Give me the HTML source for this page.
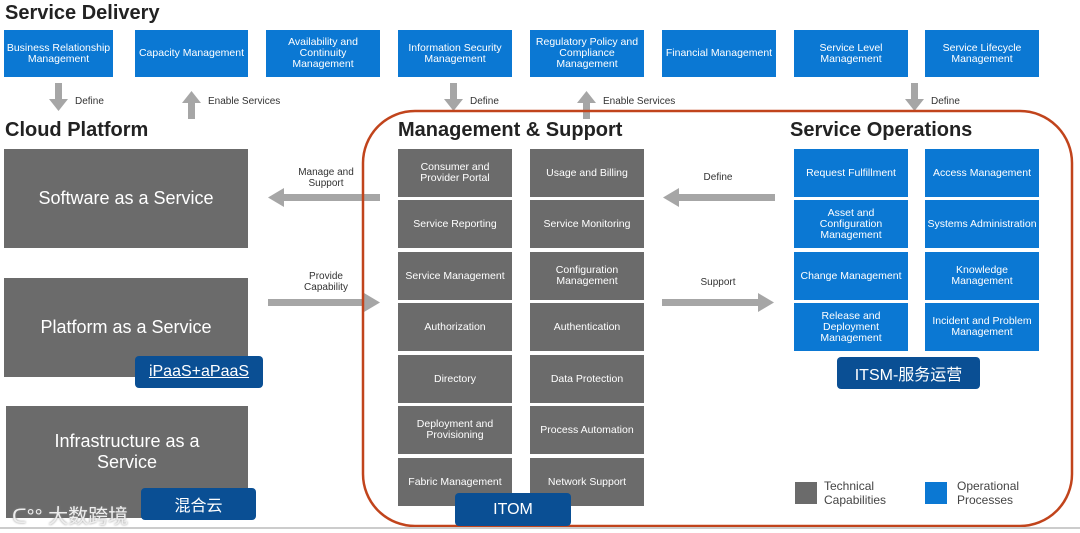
<!DOCTYPE html>
<html><head><meta charset="utf-8"><style>
body{margin:0;width:1080px;height:533px;background:#fff;position:relative;overflow:hidden;font-family:"Liberation Sans","Noto Sans CJK SC",sans-serif}
.a{position:absolute;display:flex;align-items:center;justify-content:center;text-align:center;box-sizing:border-box}
.b{background:#0b78d3;color:#fff;font-size:10.5px;line-height:11px;padding:0 2px}
.g{background:#6b6b6b;color:#fff;font-size:10.5px;line-height:11px;padding:0 2px}
.G{background:#6b6b6b;color:#fff;font-size:18px;line-height:21px}
.bd{background:#0a4f94;color:#fff;font-size:16px;border-radius:4px}
.h{position:absolute;font-size:20px;font-weight:bold;color:#222}
.l{position:absolute;font-size:10px;color:#333;text-align:center;line-height:11px}
</style></head><body>
<div class="h" style="left:5px;top:2px">Service Delivery</div>
<div class="a b" style="left:4px;top:30px;width:109px;height:47px">Business Relationship Management</div>
<div class="a b" style="left:135px;top:30px;width:113px;height:47px">Capacity Management</div>
<div class="a b" style="left:266px;top:30px;width:114px;height:47px">Availability and Continuity Management</div>
<div class="a b" style="left:398px;top:30px;width:114px;height:47px">Information Security Management</div>
<div class="a b" style="left:530px;top:30px;width:114px;height:47px">Regulatory Policy and Compliance Management</div>
<div class="a b" style="left:662px;top:30px;width:114px;height:47px">Financial Management</div>
<div class="a b" style="left:794px;top:30px;width:114px;height:47px">Service Level Management</div>
<div class="a b" style="left:925px;top:30px;width:114px;height:47px">Service Lifecycle Management</div>

<svg style="position:absolute;left:0;top:0" width="1080" height="533">
<g fill="#a6a6a6">
<path d="M55 83h7v16h6l-9.5 12-9.5-12h6z"/>
<path d="M188 119h7v-16h6l-9.5-12-9.5 12h6z"/>
<path d="M450 83h7v16h6l-9.5 12-9.5-12h6z"/>
<path d="M583 119h7v-16h6l-9.5-12-9.5 12h6z"/>
<path d="M911 83h7v16h6l-9.5 12-9.5-12h6z"/>
<path d="M380 194v7h-96v6l-16-9.5 16-9.5v6z"/>
<path d="M268 299v7h96v6l16-9.5-16-9.5v6z"/>
<path d="M775 194v7h-96v6l-16-9.5 16-9.5v6z"/>
<path d="M662 299v7h96v6l16-9.5-16-9.5v6z"/>
</g>
<rect x="363" y="111" width="709" height="415" rx="52" fill="none" stroke="#c1441c" stroke-width="2.5"/>
<line x1="0" y1="528" x2="1080" y2="528" stroke="#ccc" stroke-width="2"/>
</svg>
<div class="l" style="left:75px;top:96px">Define</div>
<div class="l" style="left:208px;top:96px">Enable Services</div>
<div class="l" style="left:470px;top:96px">Define</div>
<div class="l" style="left:603px;top:96px">Enable Services</div>
<div class="l" style="left:931px;top:96px">Define</div>
<div class="l" style="left:290px;top:167px;width:72px">Manage and Support</div>
<div class="l" style="left:290px;top:271px;width:72px">Provide Capability</div>
<div class="l" style="left:690px;top:172px;width:56px">Define</div>
<div class="l" style="left:690px;top:277px;width:56px">Support</div>

<div class="h" style="left:5px;top:119px">Cloud Platform</div>
<div class="h" style="left:398px;top:119px">Management &amp; Support</div>
<div class="h" style="left:790px;top:119px">Service Operations</div>

<div class="a G" style="left:4px;top:149px;width:244px;height:99px">Software as a Service</div>
<div class="a G" style="left:4px;top:278px;width:244px;height:99px">Platform as a Service</div>
<div class="a G" style="left:6px;top:406px;width:242px;height:112px;padding-bottom:20px">Infrastructure as a<br>Service</div>
<div class="a bd" style="left:135px;top:356px;width:128px;height:32px;text-decoration:underline">iPaaS+aPaaS</div>
<div class="a bd" style="left:141px;top:488px;width:115px;height:32px">混合云</div>
<div style="position:absolute;left:12px;top:500px;font-size:20px;color:#eee;text-shadow:0 0 2px #888">ᑕ°° 大数跨境</div>

<div class="a g" style="left:398px;top:149px;width:114px;height:48px">Consumer and Provider Portal</div>
<div class="a g" style="left:398px;top:200px;width:114px;height:48px">Service Reporting</div>
<div class="a g" style="left:398px;top:252px;width:114px;height:48px">Service Management</div>
<div class="a g" style="left:398px;top:303px;width:114px;height:48px">Authorization</div>
<div class="a g" style="left:398px;top:355px;width:114px;height:48px">Directory</div>
<div class="a g" style="left:398px;top:406px;width:114px;height:48px">Deployment and Provisioning</div>
<div class="a g" style="left:398px;top:458px;width:114px;height:48px">Fabric Management</div>
<div class="a g" style="left:530px;top:149px;width:114px;height:48px">Usage and Billing</div>
<div class="a g" style="left:530px;top:200px;width:114px;height:48px">Service Monitoring</div>
<div class="a g" style="left:530px;top:252px;width:114px;height:48px">Configuration Management</div>
<div class="a g" style="left:530px;top:303px;width:114px;height:48px">Authentication</div>
<div class="a g" style="left:530px;top:355px;width:114px;height:48px">Data Protection</div>
<div class="a g" style="left:530px;top:406px;width:114px;height:48px">Process Automation</div>
<div class="a g" style="left:530px;top:458px;width:114px;height:48px">Network Support</div>
<div class="a bd" style="left:455px;top:493px;width:116px;height:33px">ITOM</div>

<div class="a b" style="left:794px;top:149px;width:114px;height:48px">Request Fulfillment</div>
<div class="a b" style="left:794px;top:200px;width:114px;height:48px">Asset and Configuration Management</div>
<div class="a b" style="left:794px;top:252px;width:114px;height:48px">Change Management</div>
<div class="a b" style="left:794px;top:303px;width:114px;height:48px">Release and Deployment Management</div>
<div class="a b" style="left:925px;top:149px;width:114px;height:48px">Access Management</div>
<div class="a b" style="left:925px;top:200px;width:114px;height:48px">Systems Administration</div>
<div class="a b" style="left:925px;top:252px;width:114px;height:48px">Knowledge Management</div>
<div class="a b" style="left:925px;top:303px;width:114px;height:48px">Incident and Problem Management</div>
<div class="a bd" style="left:837px;top:357px;width:143px;height:32px">ITSM-服务运营</div>

<div style="position:absolute;left:795px;top:482px;width:22px;height:22px;background:#6b6b6b"></div>
<div style="position:absolute;left:824px;top:479px;font-size:12px;color:#444;line-height:14px">Technical<br>Capabilities</div>
<div style="position:absolute;left:925px;top:482px;width:22px;height:22px;background:#0b78d3"></div>
<div style="position:absolute;left:957px;top:479px;font-size:12px;color:#444;line-height:14px">Operational<br>Processes</div>
</body></html>
